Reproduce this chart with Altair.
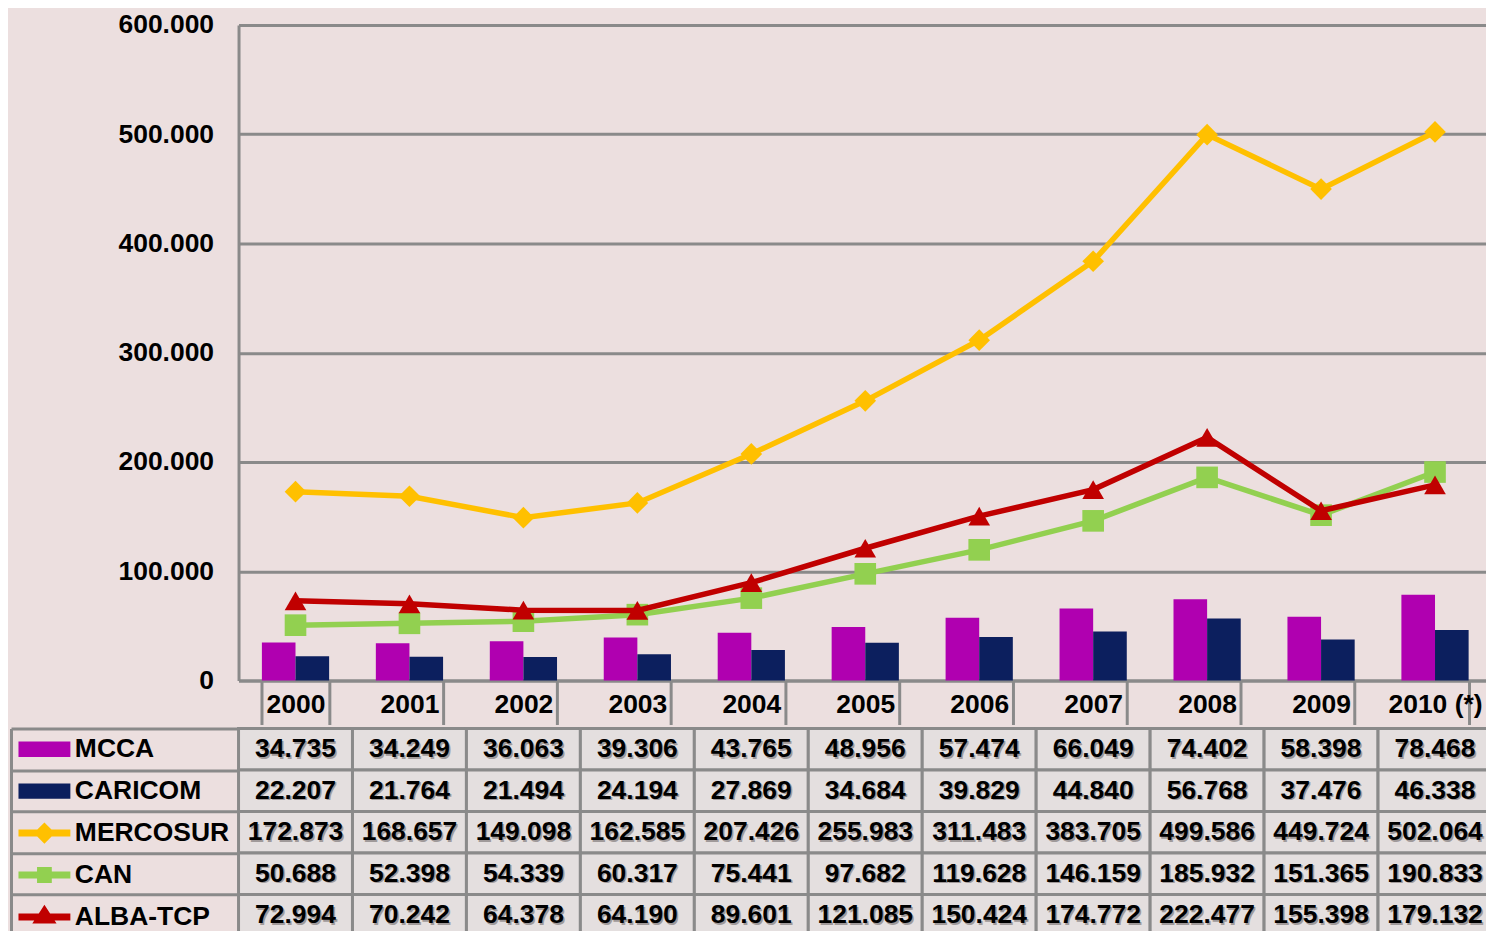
import altair as alt
import pandas as pd

# ---------------- data ----------------
years = ["2000", "2001", "2002", "2003", "2004", "2005", "2006", "2007", "2008", "2009", "2010 (*)"]
series_names = ["MCCA", "CARICOM", "MERCOSUR", "CAN", "ALBA-TCP"]
mcca = [34735, 34249, 36063, 39306, 43765, 48956, 57474, 66049, 74402, 58398, 78468]
caricom = [22207, 21764, 21494, 24194, 27869, 34684, 39829, 44840, 56768, 37476, 46338]
mercosur = [172873, 168657, 149098, 162585, 207426, 255983, 311483, 383705, 499586, 449724, 502064]
can = [50688, 52398, 54339, 60317, 75441, 97682, 119628, 146159, 185932, 151365, 190833]
alba = [72994, 70242, 64378, 64190, 89601, 121085, 150424, 174772, 222477, 155398, 179132]
y_ticks = [0, 100000, 200000, 300000, 400000, 500000, 600000]

colors = ["#b000b0", "#0c1f5e", "#ffc000", "#92d050", "#c00000"]
bar_series = ["MCCA", "CARICOM"]
line_series = ["MERCOSUR", "CAN", "ALBA-TCP"]
line_shapes = ["diamond", "square", "triangle-up"]
# legend glyphs (bar swatch drawn as thick strokes; lines with markers)
legend_shapes = [
    "M-1,-0.16H1M-1,0.16H1M-1,0H1",
    "M-1,-0.16H1M-1,0.16H1M-1,0H1",
    "M-1,0H1M0,-0.22L0.22,0L0,0.22L-0.22,0Z",
    "M-1,0H1M-0.15,-0.17H0.15V0.17H-0.15Z",
    "M-1,0H1M0,-0.22L0.22,0.12H-0.22Z",
]

values = {"MCCA": mcca, "CARICOM": caricom, "MERCOSUR": mercosur, "CAN": can, "ALBA-TCP": alba}

rows = []
for s in series_names:
    for y, v in zip(years, values[s]):
        rows.append({"year": y, "series": s, "value": v, "label": f"{v:,}".replace(",", ".")})
df = pd.DataFrame(rows)

# ---------------- styles ----------------
FONT = "Liberation Sans"
GRID = "#8a8a8a"
BG = "#ecdfdf"
CELL = "#e4dfdf"
FS = 26.5
ROW_H = 41.6

color_scale = alt.Scale(domain=series_names, range=colors)
x_scale = alt.Scale(domain=years, paddingInner=0.41, paddingOuter=0.205)
y_scale = alt.Scale(domain=[0, 600000])

x_axis = alt.Axis(
    title=None, labelAngle=0, grid=False,
    domain=True, domainColor=GRID, domainWidth=3,
    ticks=True, tickBand="extent", tickSize=44, tickColor=GRID, tickWidth=3,
    labelFont=FONT, labelFontSize=FS, labelFontWeight="bold", labelColor="black",
    labelPadding=-33, labelBaseline="top",
)
y_axis = alt.Axis(
    title=None, values=y_ticks, grid=True, gridColor=GRID, gridWidth=3,
    domain=True, domainColor=GRID, domainWidth=3, ticks=False,
    labelFont=FONT, labelFontSize=FS, labelFontWeight="bold", labelColor="black",
    labelPadding=25,
    labelExpr="replace(format(datum.value, ','), ',', '.')",
)

bars = alt.Chart(df[df.series.isin(bar_series)]).mark_bar().encode(
    x=alt.X("year:N", sort=years, scale=x_scale, axis=x_axis),
    xOffset=alt.XOffset("series:N", sort=bar_series, scale=alt.Scale(domain=bar_series, paddingInner=0)),
    y=alt.Y("value:Q", scale=y_scale, axis=y_axis),
    color=alt.Color("series:N", scale=color_scale, legend=None),
)

layers = [bars]
for s, shp in zip(line_series, line_shapes):
    sub = df[df.series == s]
    ln = alt.Chart(sub).mark_line(strokeWidth=5.5).encode(
        x=alt.X("year:N", sort=years, scale=x_scale),
        y=alt.Y("value:Q", scale=y_scale),
        color=alt.Color("series:N", scale=color_scale, legend=None),
    )
    pt = alt.Chart(sub).mark_point(filled=True, opacity=1, size=470, shape=shp).encode(
        x=alt.X("year:N", sort=years, scale=x_scale),
        y=alt.Y("value:Q", scale=y_scale),
        color=alt.Color("series:N", scale=color_scale, legend=None),
    )
    layers += [ln, pt]

top = alt.layer(*layers).properties(width=1256, height=657)

# ---------------- table ----------------
tx = alt.Scale(domain=years, paddingInner=0, paddingOuter=0)
ty = alt.Scale(domain=series_names, paddingInner=0, paddingOuter=0)

cells = alt.Chart(df).mark_rect(fill=CELL, stroke=GRID, strokeWidth=3).encode(
    x=alt.X("year:N", sort=years, scale=tx, axis=None),
    y=alt.Y("series:N", sort=series_names, scale=ty,
            axis=alt.Axis(title=None, orient="left", labels=False, domain=False, grid=False,
                          ticks=True, tickBand="extent", tickSize=228, tickColor=GRID, tickWidth=3)),
)
shadow = alt.Chart(df).mark_text(font=FONT, fontSize=FS, fontWeight="bold", color="#a09a9a",
                                 dx=1.5, dy=1.5).encode(
    x=alt.X("year:N", sort=years, scale=tx, axis=None),
    y=alt.Y("series:N", sort=series_names, scale=ty, axis=None),
    text="label:N",
)
texts = alt.Chart(df).mark_text(font=FONT, fontSize=FS, fontWeight="bold", color="black").encode(
    x=alt.X("year:N", sort=years, scale=tx, axis=None),
    y=alt.Y("series:N", sort=series_names, scale=ty,
            axis=alt.Axis(title=None, orient="left", offset=228, labels=False, ticks=False, grid=False,
                          domain=True, domainColor=GRID, domainWidth=3)),
    text="label:N",
)

legend = alt.Legend(
    orient="none", legendX=-224, legendY=0, direction="vertical", padding=0,
    labelFont=FONT, labelFontSize=FS, labelFontWeight="bold", labelColor="black",
    labelOffset=1, labelLimit=400,
    symbolSize=2704, symbolStrokeWidth=7, rowPadding=0, clipHeight=ROW_H, symbolOpacity=1,
)
leg = alt.Chart(df).mark_point(filled=False, opacity=1).encode(
    color=alt.Color("series:N", scale=color_scale, legend=legend, title=None),
    shape=alt.Shape("series:N", scale=alt.Scale(domain=series_names, range=legend_shapes),
                    legend=legend, title=None),
).transform_filter("false")

table = alt.layer(cells, shadow, texts, leg).resolve_axis(y="independent").properties(
    width=1256, height=ROW_H * 5
)

chart = alt.vconcat(top, table, spacing=0).resolve_scale(color="independent").resolve_legend(
    color="independent", shape="independent"
).properties(
    background=BG, padding={"left": 1, "top": 3, "right": -8, "bottom": -8}
).configure_view(stroke=None)

chart.save("out.html", embed_options={"renderer": "svg", "actions": False})
